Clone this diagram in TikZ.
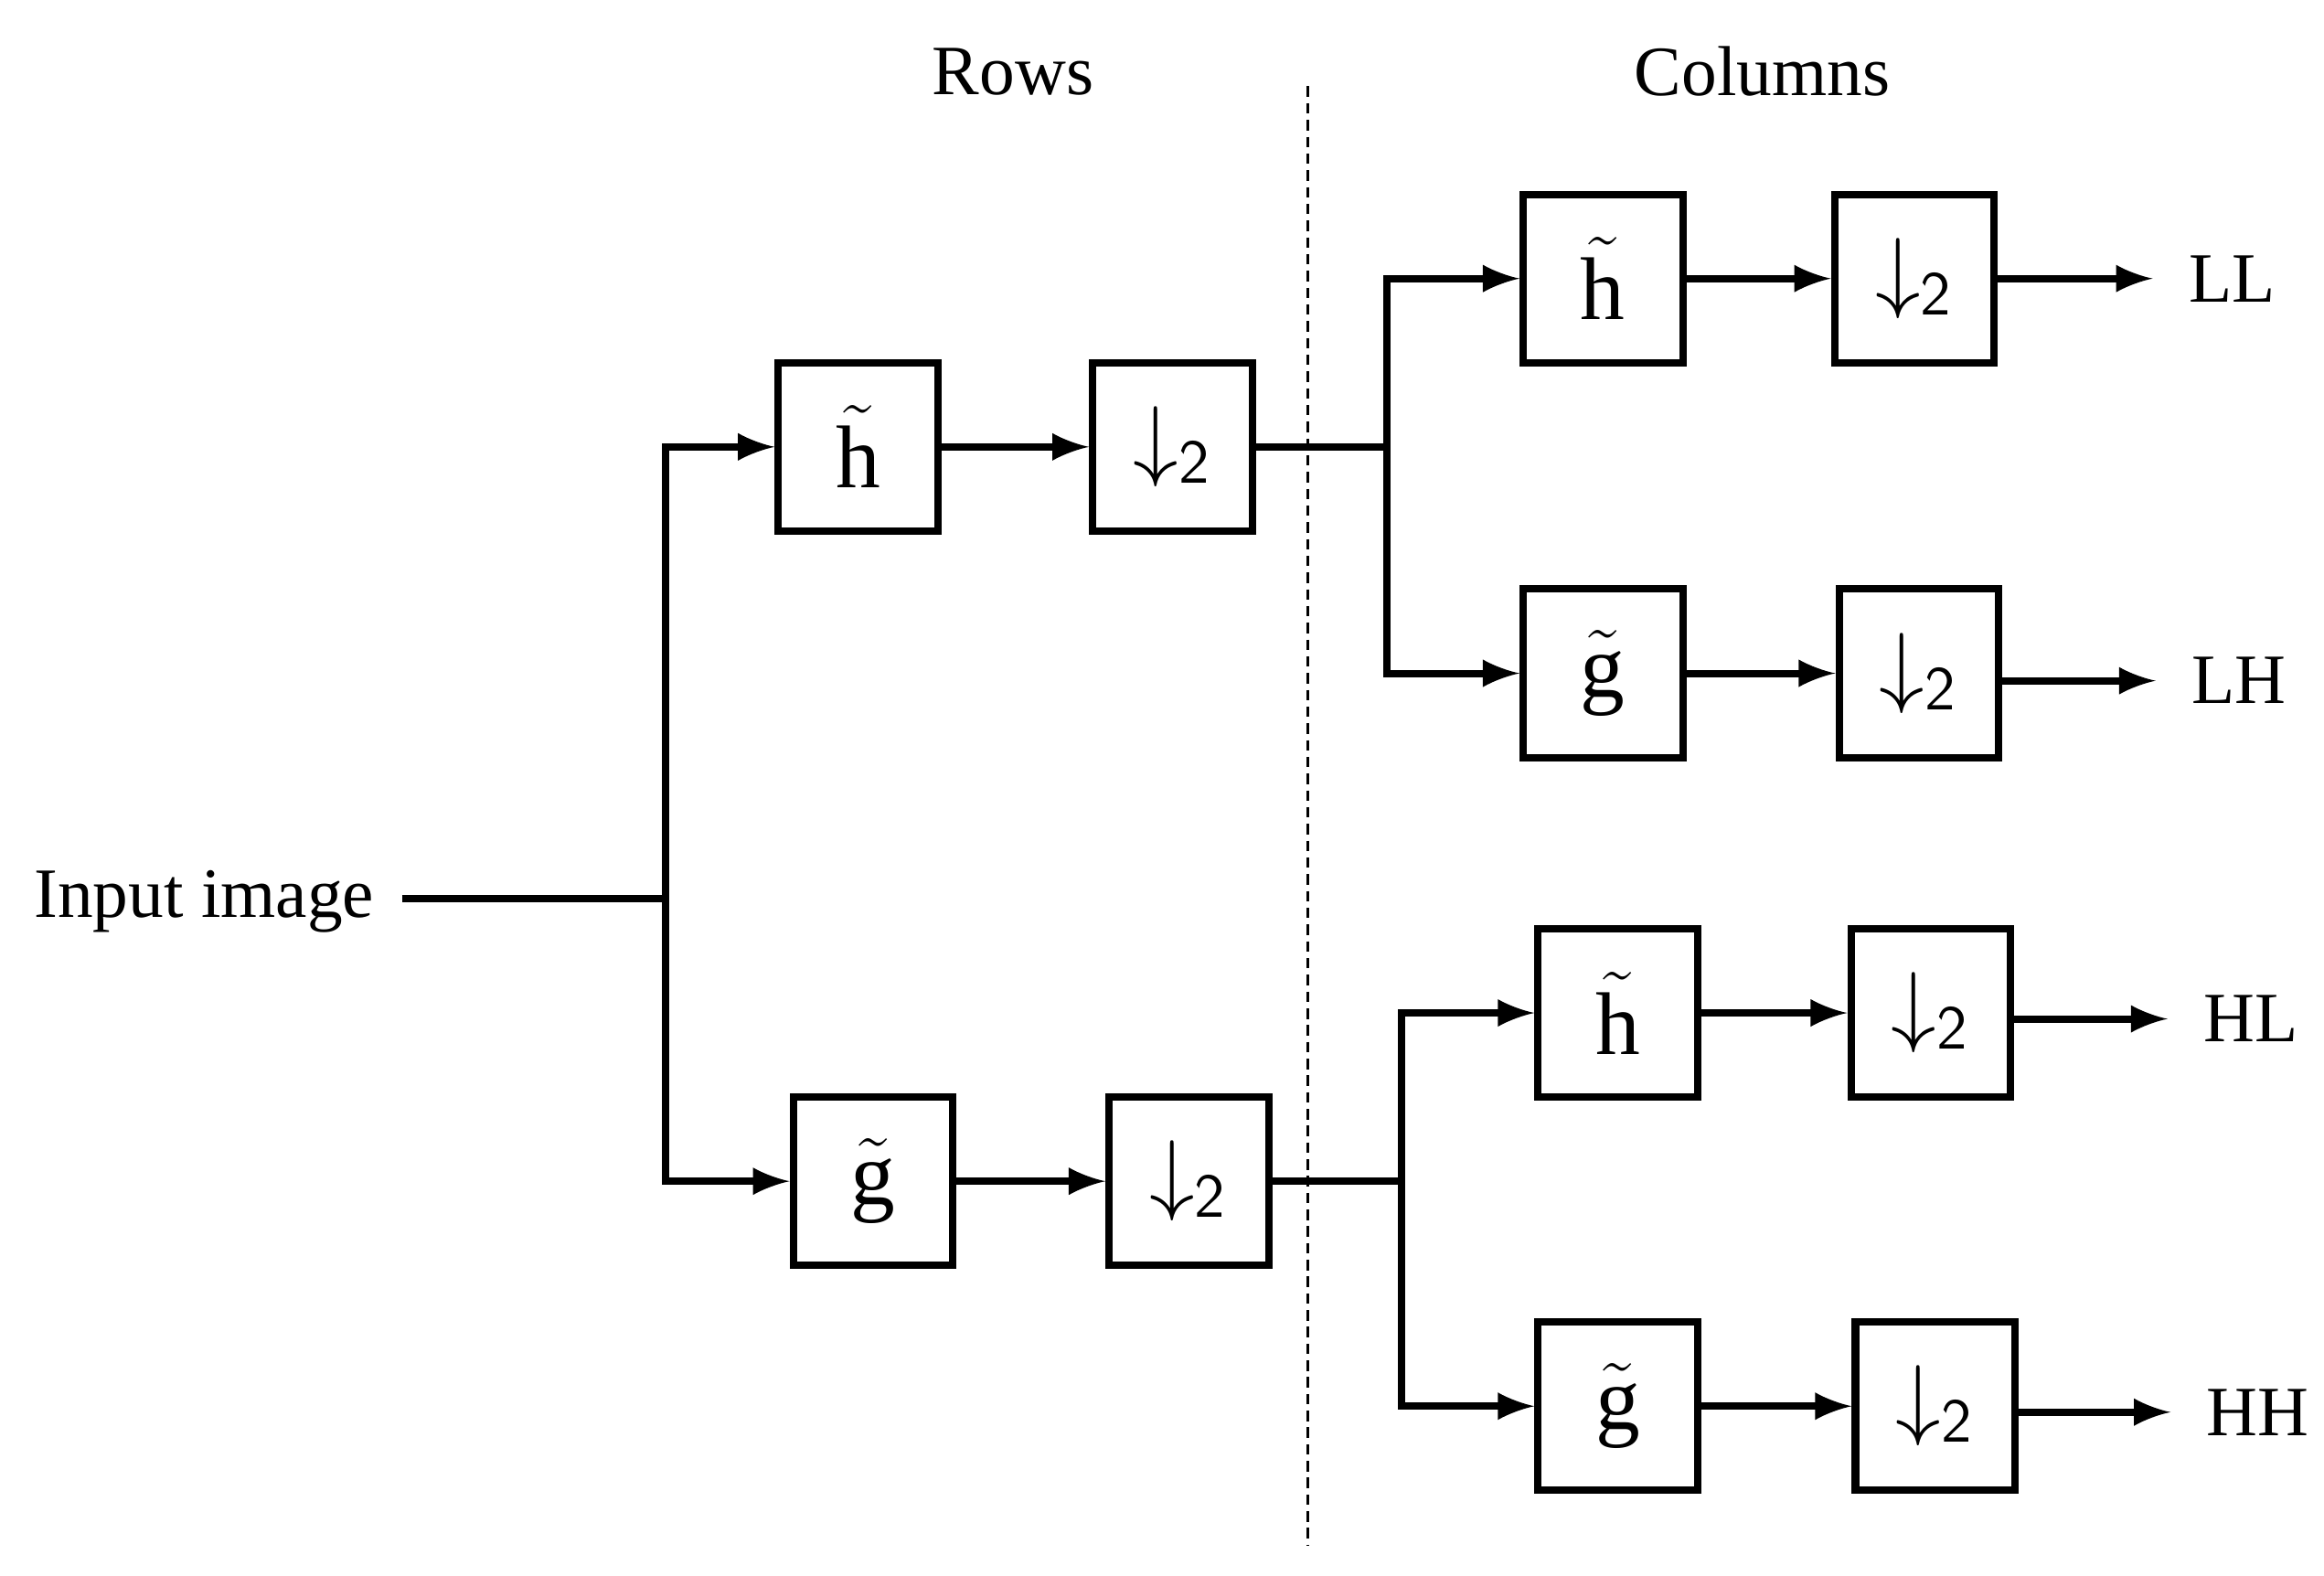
\documentclass[tikz,border=0pt]{standalone}
\usepackage{fontspec}
\setmainfont{Liberation Serif}
\usetikzlibrary{positioning}
\tikzset{
  filt/.style={draw, line width=1.4pt, minimum width=1.07cm, minimum height=1.13cm, inner sep=0pt, font=\fontsize{17}{19}\selectfont},
  lbl/.style={font=\fontsize{13.5}{16}\selectfont},
  flow/.style={->, >=latex, line width=1.4pt}
}
\newcommand{\hf}{$\tilde{\mathrm{h}}$}
\newcommand{\gf}{$\tilde{\mathrm{g}}$}
\newcommand{\dn}{$\downarrow_{\mathsf{2}}$}
\begin{document}
\begin{tikzpicture}[x=0.01cm, y=-0.01cm]
    \useasboundingbox (0,0) rectangle (1560,1058);
    % Headings and separator
    \node[lbl] (rows) at (680,48) {Rows};
    \node[lbl] (cols) at (1183,48) {Columns};
    \coordinate (septop) at (878,58);
    \coordinate (sepbot) at (878,1038);
    \draw[dash pattern=on 2pt off 1.2pt, line width=0.5pt] (septop) -- (sepbot);

    % Row stage
    \node[lbl] (in) at (137,605) {Input image};
    \coordinate (inend) at (270,603);
    \coordinate (split) at (447,603);
    \node[filt] (rh) at (576,300) {\hf};
    \node[filt] (rhd) at (787,300) {\dn};
    \node[filt] (rg) at (586,793) {\gf};
    \node[filt] (rgd) at (798,793) {\dn};
    \draw[line width=1.4pt] (inend) -- (split);
    \draw[flow] (split) |- (rh);
    \draw[flow] (split) |- (rg);
    \draw[flow] (rh) -- (rhd);
    \draw[flow] (rg) -- (rgd);

    % Column stage
    \node[filt] (ch1) at (1076,187) {\hf};
    \node[filt] (cd1) at (1285,187) {\dn};
    \node[filt] (cg1) at (1076,452) {\gf};
    \node[filt] (cd2) at (1288,452) {\dn};
    \node[filt] (ch2) at (1086,680) {\hf};
    \node[filt] (cd3) at (1296,680) {\dn};
    \node[filt] (cg2) at (1086,944) {\gf};
    \node[filt] (cd4) at (1299,944) {\dn};

    \coordinate (s1) at (931,300);
    \coordinate (s2) at (941,793);
    \draw[line width=1.4pt] (rhd) -- (s1);
    \draw[line width=1.4pt] (rgd) -- (s2);
    \draw[flow] (s1) |- (ch1);
    \draw[flow] (s1) |- (cg1);
    \draw[flow] (s2) |- (ch2);
    \draw[flow] (s2) |- (cg2);
    \draw[flow] (ch1) -- (cd1);
    \draw[flow] (cg1) -- (cd2);
    \draw[flow] (ch2) -- (cd3);
    \draw[flow] (cg2) -- (cd4);

    % Outputs
    \node[lbl, anchor=west] (ll) at (1457,187) {LL};
    \node[lbl, anchor=west] (lh) at (1459,457) {LH};
    \node[lbl, anchor=west] (hl) at (1467,684) {HL};
    \node[lbl, anchor=west] (hh) at (1469,948) {HH};
    \coordinate (o1) at (1445,187);
    \coordinate (o2) at (1447,457);
    \coordinate (o3) at (1455,684);
    \coordinate (o4) at (1457,948);
    \draw[flow] (cd1) -- (o1);
    \draw[flow] (cd2.east |- o2) -- (o2);
    \draw[flow] (cd3.east |- o3) -- (o3);
    \draw[flow] (cd4.east |- o4) -- (o4);
\end{tikzpicture}
\end{document}
